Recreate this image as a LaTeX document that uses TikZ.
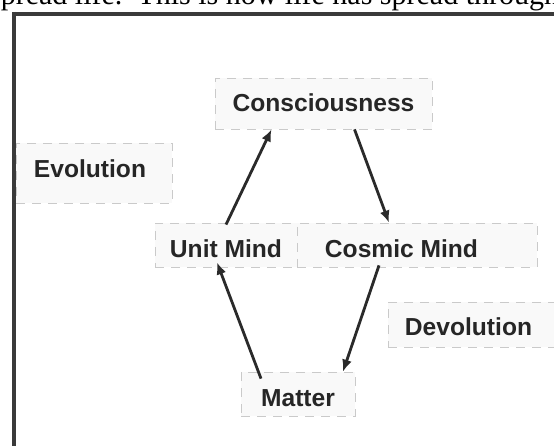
\documentclass[tikz,border=0pt]{standalone}
\usepackage{fontspec}
\setmainfont{Liberation Serif}
\newfontfamily\boxfont{Liberation Sans}
\usetikzlibrary{arrows.meta}
\definecolor{framecol}{HTML}{3A3A3A}
\definecolor{boxline}{HTML}{CACACA}
\definecolor{boxfill}{HTML}{F9F9F9}
\definecolor{txtcol}{HTML}{262626}
\definecolor{arrcol}{HTML}{2A2A2A}
\tikzset{
  lbl/.style={draw=boxline, fill=boxfill, dash pattern=on 9pt off 7pt, line width=0.8pt,
    inner sep=0pt, anchor=base, text=txtcol, font=\boxfont\bfseries\fontsize{24.6}{28}\selectfont},
  arr/.style={draw=arrcol, line width=2.8pt, -{Latex[length=12pt,width=10pt]}},
  framel/.style={draw=framecol, line width=4.5pt}
}
\begin{document}
\begin{tikzpicture}[x=1pt,y=-1pt]
\useasboundingbox (0,0) rectangle (554,446);
\clip (0,0) rectangle (554,446);
\fill[white] (0,0) rectangle (554,446);
% top text line (cut off as in the reference)
\node[anchor=base west, inner sep=0pt, font=\fontsize{30}{34}\selectfont, text=black] (top) at (-11,5) {spread life.\ \ This is how life has spread through};
% frame
\coordinate (fa) at (14,12);
\coordinate (fb) at (14,450);
\coordinate (fc) at (12,14);
\coordinate (fd) at (560,14);
\draw[framel] (fa) -- (fb);
\draw[framel] (fc) -- (fd);
% nodes
\node[lbl, minimum width=217pt, text height=34pt, text depth=17pt] (con) at (323.5,112) {Consciousness};
\node[lbl, minimum width=156pt, text height=35pt, text depth=25pt] (evo) at (94,178) {Evolution\hspace*{8pt}};
\node[lbl, minimum width=142pt, text height=35pt, text depth=9pt] (um) at (226,258) {Unit Mind};
\node[lbl, minimum width=240pt, text height=35pt, text depth=9pt] (cm) at (417,258) {Cosmic Mind\hspace*{31pt}};
\node[lbl, minimum width=166pt, text height=33pt, text depth=12pt] (dev) at (471,335) {Devolution\hspace*{5pt}};
\node[lbl, minimum width=114pt, text height=34pt, text depth=10pt] (mat) at (298,406) {Matter};
% connectors
\draw[arr] ([yshift=-2pt]um.north) -- ([xshift=-52pt]con.south);
\draw[arr] ([xshift=31pt]con.south) -- ([xshift=-28pt]cm.north);
\draw[arr] ([xshift=-38pt,yshift=2pt]cm.south) -- ([xshift=45pt]mat.north);
\draw[arr] ([xshift=-37pt,yshift=-7pt]mat.north) -- ([xshift=-9pt,yshift=5pt]um.south);
\end{tikzpicture}
\end{document}
